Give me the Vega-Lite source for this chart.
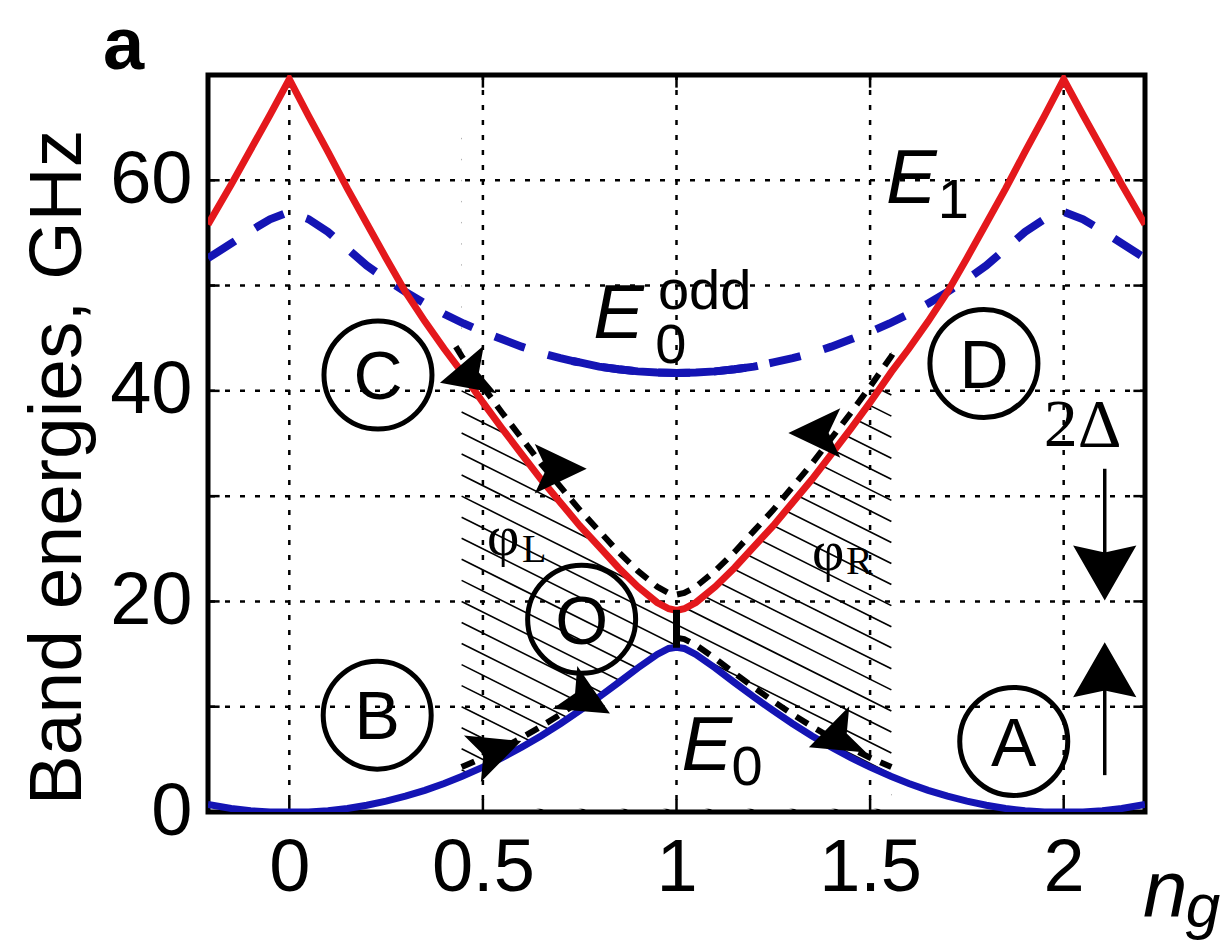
{
  "$schema": "https://vega.github.io/schema/vega-lite/v6.json",
  "width": 937,
  "height": 737,
  "autosize": {"type": "none"},
  "padding": {"left": 208, "top": 75, "right": 80, "bottom": 134},
  "background": "white",
  "config": {
    "view": {"stroke": "black", "strokeWidth": 5},
    "axis": {"labelFont": "Liberation Sans", "labelColor": "black", "ticks": false, "domain": false, "grid": false, "labelFlush": false}
  },
  "datasets": {
    "bands": [
      {"x": -0.21, "e0": 0.71, "e1": 55.8}, {"x": -0.15, "e0": 0.34, "e1": 59.6}, {"x": -0.1, "e0": 0.12, "e1": 62.9},
      {"x": -0.05, "e0": 0.0, "e1": 66.2}, {"x": 0, "e0": 0.0, "e1": 69.6}, {"x": 0.05, "e0": 0.0, "e1": 66.1},
      {"x": 0.1, "e0": 0.12, "e1": 62.7}, {"x": 0.15, "e0": 0.34, "e1": 59.2}, {"x": 0.2, "e0": 0.64, "e1": 55.9},
      {"x": 0.25, "e0": 1.03, "e1": 52.6}, {"x": 0.3, "e0": 1.5, "e1": 49.4}, {"x": 0.35, "e0": 2.06, "e1": 46.6},
      {"x": 0.4, "e0": 2.71, "e1": 44.0}, {"x": 0.445, "e0": 3.37, "e1": 41.8}, {"x": 0.5, "e0": 4.26, "e1": 38.9},
      {"x": 0.55, "e0": 5.16, "e1": 36.4}, {"x": 0.6, "e0": 6.15, "e1": 34.0}, {"x": 0.65, "e0": 7.22, "e1": 31.6},
      {"x": 0.7, "e0": 8.38, "e1": 29.4}, {"x": 0.75, "e0": 9.62, "e1": 27.2}, {"x": 0.8, "e0": 10.92, "e1": 25.2},
      {"x": 0.85, "e0": 12.29, "e1": 23.2}, {"x": 0.9, "e0": 13.68, "e1": 21.4}, {"x": 0.95, "e0": 14.97, "e1": 19.9},
      {"x": 0.98, "e0": 15.53, "e1": 19.3}, {"x": 1.0, "e0": 15.65, "e1": 19.15}, {"x": 1.02, "e0": 15.53, "e1": 19.3},
      {"x": 1.05, "e0": 14.97, "e1": 19.9}, {"x": 1.1, "e0": 13.68, "e1": 21.4}, {"x": 1.15, "e0": 12.29, "e1": 23.2},
      {"x": 1.2, "e0": 10.92, "e1": 25.2}, {"x": 1.25, "e0": 9.62, "e1": 27.2}, {"x": 1.3, "e0": 8.38, "e1": 29.4},
      {"x": 1.35, "e0": 7.22, "e1": 31.6}, {"x": 1.4, "e0": 6.15, "e1": 34.0}, {"x": 1.45, "e0": 5.16, "e1": 36.4},
      {"x": 1.5, "e0": 4.26, "e1": 38.9}, {"x": 1.555, "e0": 3.37, "e1": 41.8}, {"x": 1.6, "e0": 2.71, "e1": 44.0},
      {"x": 1.65, "e0": 2.06, "e1": 46.6}, {"x": 1.7, "e0": 1.5, "e1": 49.4}, {"x": 1.75, "e0": 1.03, "e1": 52.6},
      {"x": 1.8, "e0": 0.64, "e1": 55.9}, {"x": 1.85, "e0": 0.34, "e1": 59.2}, {"x": 1.9, "e0": 0.12, "e1": 62.7},
      {"x": 1.95, "e0": 0.0, "e1": 66.1}, {"x": 2.0, "e0": 0.0, "e1": 69.6}, {"x": 2.05, "e0": 0.0, "e1": 66.2},
      {"x": 2.1, "e0": 0.12, "e1": 62.9}, {"x": 2.15, "e0": 0.34, "e1": 59.6}, {"x": 2.21, "e0": 0.71, "e1": 55.8}
    ],
    "odd": [
      {"x": -0.21, "eo": 52.6}, {"x": -0.15, "eo": 54.0}, {"x": -0.1, "eo": 55.2}, {"x": -0.05, "eo": 56.3},
      {"x": 0, "eo": 57.0}, {"x": 0.05, "eo": 56.3}, {"x": 0.1, "eo": 55.1}, {"x": 0.15, "eo": 53.5},
      {"x": 0.2, "eo": 51.9}, {"x": 0.25, "eo": 50.6}, {"x": 0.3, "eo": 49.4}, {"x": 0.35, "eo": 48.3},
      {"x": 0.4, "eo": 47.3}, {"x": 0.45, "eo": 46.4}, {"x": 0.5, "eo": 45.6}, {"x": 0.55, "eo": 44.9},
      {"x": 0.6, "eo": 44.2}, {"x": 0.65, "eo": 43.6}, {"x": 0.7, "eo": 43.1}, {"x": 0.73, "eo": 42.84},
      {"x": 0.75, "eo": 42.7}, {"x": 0.8, "eo": 42.3}, {"x": 0.85, "eo": 42.05}, {"x": 0.9, "eo": 41.85},
      {"x": 0.95, "eo": 41.74}, {"x": 1.0, "eo": 41.7}, {"x": 1.05, "eo": 41.74}, {"x": 1.1, "eo": 41.85},
      {"x": 1.15, "eo": 42.05}, {"x": 1.2, "eo": 42.3}, {"x": 1.21, "eo": 42.38}, {"x": 1.25, "eo": 42.7},
      {"x": 1.3, "eo": 43.1}, {"x": 1.35, "eo": 43.6}, {"x": 1.4, "eo": 44.2}, {"x": 1.45, "eo": 44.9},
      {"x": 1.5, "eo": 45.6}, {"x": 1.55, "eo": 46.4}, {"x": 1.6, "eo": 47.3}, {"x": 1.65, "eo": 48.3},
      {"x": 1.7, "eo": 49.4}, {"x": 1.75, "eo": 50.6}, {"x": 1.8, "eo": 51.9}, {"x": 1.85, "eo": 53.5},
      {"x": 1.9, "eo": 55.1}, {"x": 1.95, "eo": 56.3}, {"x": 2.0, "eo": 57.0}, {"x": 2.05, "eo": 56.3},
      {"x": 2.1, "eo": 55.2}, {"x": 2.15, "eo": 54.0}, {"x": 2.21, "eo": 52.6}
    ],
    "pathUp": [
      {"x": 0.43, "y": 44.2}, {"x": 0.445, "y": 43.3}, {"x": 0.5, "y": 40.4}, {"x": 0.55, "y": 37.9}, {"x": 0.6, "y": 35.5},
      {"x": 0.65, "y": 33.1}, {"x": 0.7, "y": 30.9}, {"x": 0.75, "y": 28.7}, {"x": 0.8, "y": 26.7},
      {"x": 0.85, "y": 24.7}, {"x": 0.9, "y": 22.9}, {"x": 0.95, "y": 21.4}, {"x": 0.98, "y": 20.8},
      {"x": 1.0, "y": 20.65}, {"x": 1.02, "y": 20.8}, {"x": 1.05, "y": 21.4}, {"x": 1.1, "y": 22.9},
      {"x": 1.15, "y": 24.7}, {"x": 1.2, "y": 26.7}, {"x": 1.25, "y": 28.7}, {"x": 1.3, "y": 30.9},
      {"x": 1.35, "y": 33.1}, {"x": 1.4, "y": 35.5}, {"x": 1.45, "y": 37.9}, {"x": 1.5, "y": 40.4},
      {"x": 1.555, "y": 43.3}, {"x": 1.57, "y": 44.2}
    ],
    "pathLow": [
      {"x": 1.0, "y": 16.55}, {"x": 1.02, "y": 16.43}, {"x": 1.05, "y": 15.87}, {"x": 1.1, "y": 14.58},
      {"x": 1.15, "y": 13.19}, {"x": 1.2, "y": 11.82}, {"x": 1.25, "y": 10.52}, {"x": 1.3, "y": 9.28},
      {"x": 1.35, "y": 8.12}, {"x": 1.4, "y": 7.05}, {"x": 1.45, "y": 6.06}, {"x": 1.5, "y": 5.16}, {"x": 1.555, "y": 4.27}
    ],
    "pathLowL": [
      {"x": 0.445, "y": 4.27}, {"x": 0.5, "y": 5.16}, {"x": 0.55, "y": 6.06}, {"x": 0.6, "y": 7.05},
      {"x": 0.65, "y": 8.12}, {"x": 0.7, "y": 9.28}, {"x": 0.75, "y": 10.52}
    ],
    "hatch": [
      {"hx": 0.445, "hy": 4, "hx2": 1.555, "hy2": -16.4}, {"hx": 0.445, "hy": 6, "hx2": 1.555, "hy2": -14.4},
      {"hx": 0.445, "hy": 8, "hx2": 1.555, "hy2": -12.4}, {"hx": 0.445, "hy": 10, "hx2": 1.555, "hy2": -10.4},
      {"hx": 0.445, "hy": 12, "hx2": 1.555, "hy2": -8.4}, {"hx": 0.445, "hy": 14, "hx2": 1.555, "hy2": -6.4},
      {"hx": 0.445, "hy": 16, "hx2": 1.555, "hy2": -4.4}, {"hx": 0.445, "hy": 18, "hx2": 1.555, "hy2": -2.4},
      {"hx": 0.445, "hy": 20, "hx2": 1.555, "hy2": -0.4}, {"hx": 0.445, "hy": 22, "hx2": 1.555, "hy2": 1.6},
      {"hx": 0.445, "hy": 24, "hx2": 1.555, "hy2": 3.6}, {"hx": 0.445, "hy": 26, "hx2": 1.555, "hy2": 5.6},
      {"hx": 0.445, "hy": 28, "hx2": 1.555, "hy2": 7.6}, {"hx": 0.445, "hy": 30, "hx2": 1.555, "hy2": 9.6},
      {"hx": 0.445, "hy": 32, "hx2": 1.555, "hy2": 11.6}, {"hx": 0.445, "hy": 34, "hx2": 1.555, "hy2": 13.6},
      {"hx": 0.445, "hy": 36, "hx2": 1.555, "hy2": 15.6}, {"hx": 0.445, "hy": 38, "hx2": 1.555, "hy2": 17.6},
      {"hx": 0.445, "hy": 40, "hx2": 1.555, "hy2": 19.6}, {"hx": 0.445, "hy": 42, "hx2": 1.555, "hy2": 21.6},
      {"hx": 0.445, "hy": 44, "hx2": 1.555, "hy2": 23.6}, {"hx": 0.445, "hy": 46, "hx2": 1.555, "hy2": 25.6},
      {"hx": 0.445, "hy": 48, "hx2": 1.555, "hy2": 27.6}, {"hx": 0.445, "hy": 50, "hx2": 1.555, "hy2": 29.6},
      {"hx": 0.445, "hy": 52, "hx2": 1.555, "hy2": 31.6}, {"hx": 0.445, "hy": 54, "hx2": 1.555, "hy2": 33.6},
      {"hx": 0.445, "hy": 56, "hx2": 1.555, "hy2": 35.6}, {"hx": 0.445, "hy": 58, "hx2": 1.555, "hy2": 37.6},
      {"hx": 0.445, "hy": 60, "hx2": 1.555, "hy2": 39.6}, {"hx": 0.445, "hy": 62, "hx2": 1.555, "hy2": 41.6},
      {"hx": 0.445, "hy": 64, "hx2": 1.555, "hy2": 43.6}
    ],
    "gridX": [{"v": 0}, {"v": 0.5}, {"v": 1}, {"v": 1.5}, {"v": 2}],
    "gridY": [{"v": 10}, {"v": 20}, {"v": 30}, {"v": 40}, {"v": 50}, {"v": 60}],
    "circles": [
      {"cx": 0.229, "cy": 41.5, "ty": 39.2, "t": "C"},
      {"cx": 1.794, "cy": 42.6, "ty": 40.3, "t": "D"},
      {"cx": 0.227, "cy": 9.2, "ty": 6.9, "t": "B"},
      {"cx": 1.871, "cy": 6.7, "ty": 4.4, "t": "A"},
      {"cx": 0.755, "cy": 18.3, "ty": 16.0, "t": "O"}
    ],
    "arrows": [
      {"ax": 0.454, "ay": 41.4, "ang": 165},
      {"ax": 0.701, "ay": 32.6, "ang": 0},
      {"ax": 1.356, "ay": 36.0, "ang": 180},
      {"ax": 0.536, "ay": 5.9, "ang": 340},
      {"ax": 0.77, "ay": 10.6, "ang": 30},
      {"ax": 1.405, "ay": 7.0, "ang": 160}
    ],
    "dheads": [{"ax": 2.106, "ay": 22.7, "ang": 90}, {"ax": 2.106, "ay": 13.5, "ang": 270}],
    "dlines": [{"lx": 2.106, "ly": 32.6, "ly2": 22}, {"lx": 2.106, "ly": 3.5, "ly2": 14}]
  },
  "layer": [
    {
      "data": {"name": "hatch"},
      "mark": {"type": "rule", "color": "black", "strokeWidth": 1.6, "clip": true},
      "encoding": {
        "x": {"field": "hx", "type": "quantitative", "scale": {"domain": [-0.21, 2.21], "nice": false, "zero": false},
              "axis": {"title": null, "values": [0, 0.5, 1, 1.5, 2], "format": "~g", "labelFontSize": 74, "labelPadding": 20}},
        "y": {"field": "hy", "type": "quantitative", "scale": {"domain": [0, 70], "nice": false, "zero": false},
              "axis": {"title": "Band energies, GHz", "values": [0, 20, 40, 60], "labelFontSize": 74, "labelPadding": 16,
                       "titleFont": "Liberation Sans", "titleFontSize": 75, "titleFontWeight": "normal", "titleColor": "black",
                       "titleX": -112, "titleY": 392}},
        "x2": {"field": "hx2"},
        "y2": {"field": "hy2"}
      }
    },
    {
      "data": {"name": "bands"},
      "transform": [{"filter": "datum.x >= 0.445 && datum.x <= 1.555"}],
      "mark": {"type": "area", "color": "white", "opacity": 1},
      "encoding": {
        "x": {"field": "x", "type": "quantitative"},
        "y": {"field": "e1", "type": "quantitative"},
        "y2": {"datum": 69.7}
      }
    },
    {
      "data": {"name": "bands"},
      "transform": [{"filter": "datum.x >= 0.445 && datum.x <= 1.555"}],
      "mark": {"type": "area", "color": "white", "opacity": 1},
      "encoding": {
        "x": {"field": "x", "type": "quantitative"},
        "y": {"field": "e0", "type": "quantitative"},
        "y2": {"datum": 0.3}
      }
    },
    {
      "data": {"name": "gridX"},
      "mark": {"type": "rule", "color": "black", "strokeWidth": 2.5, "strokeDash": [5, 10]},
      "encoding": {"x": {"field": "v", "type": "quantitative"}}
    },
    {
      "data": {"name": "gridY"},
      "mark": {"type": "rule", "color": "black", "strokeWidth": 2.5, "strokeDash": [5, 10]},
      "encoding": {"y": {"field": "v", "type": "quantitative"}}
    },
    {
      "data": {"name": "gridX"},
      "mark": {"type": "rule", "color": "black", "strokeWidth": 2.5},
      "encoding": {"x": {"field": "v", "type": "quantitative"}, "y": {"datum": 0}, "y2": {"datum": 1.2}}
    },
    {
      "data": {"name": "gridX"},
      "mark": {"type": "rule", "color": "black", "strokeWidth": 2.5},
      "encoding": {"x": {"field": "v", "type": "quantitative"}, "y": {"datum": 68.8}, "y2": {"datum": 70}}
    },
    {
      "data": {"name": "gridY"},
      "mark": {"type": "rule", "color": "black", "strokeWidth": 2.5},
      "encoding": {"y": {"field": "v", "type": "quantitative"}, "x": {"datum": -0.21}, "x2": {"datum": -0.18}}
    },
    {
      "data": {"name": "gridY"},
      "mark": {"type": "rule", "color": "black", "strokeWidth": 2.5},
      "encoding": {"y": {"field": "v", "type": "quantitative"}, "x": {"datum": 2.18}, "x2": {"datum": 2.21}}
    },
    {
      "data": {"name": "odd"},
      "mark": {"type": "line", "color": "#1414b4", "strokeWidth": 8, "strokeDash": [32, 24], "clip": true},
      "encoding": {"x": {"field": "x", "type": "quantitative"}, "y": {"field": "eo", "type": "quantitative"}}
    },
    {
      "data": {"name": "odd"},
      "transform": [{"filter": "datum.x >= 0.73 && datum.x <= 1.21"}],
      "mark": {"type": "line", "color": "#1414b4", "strokeWidth": 8, "clip": true},
      "encoding": {"x": {"field": "x", "type": "quantitative"}, "y": {"field": "eo", "type": "quantitative"}}
    },
    {
      "data": {"name": "bands"},
      "mark": {"type": "line", "color": "#1414b4", "strokeWidth": 7, "clip": true},
      "encoding": {"x": {"field": "x", "type": "quantitative"}, "y": {"field": "e0", "type": "quantitative"}}
    },
    {
      "data": {"name": "bands"},
      "mark": {"type": "line", "color": "#e4181c", "strokeWidth": 7, "clip": true},
      "encoding": {"x": {"field": "x", "type": "quantitative"}, "y": {"field": "e1", "type": "quantitative"}}
    },
    {
      "data": {"name": "pathUp"},
      "mark": {"type": "line", "color": "black", "strokeWidth": 6, "strokeDash": [14, 10]},
      "encoding": {"x": {"field": "x", "type": "quantitative"}, "y": {"field": "y", "type": "quantitative"}}
    },
    {
      "data": {"name": "pathLow"},
      "mark": {"type": "line", "color": "black", "strokeWidth": 6, "strokeDash": [14, 10]},
      "encoding": {"x": {"field": "x", "type": "quantitative"}, "y": {"field": "y", "type": "quantitative"}}
    },
    {
      "data": {"name": "pathLowL"},
      "mark": {"type": "line", "color": "black", "strokeWidth": 6, "strokeDash": [14, 10]},
      "encoding": {"x": {"field": "x", "type": "quantitative"}, "y": {"field": "y", "type": "quantitative"}}
    },
    {
      "data": {"values": [{"x": 1.0, "y": 15.6, "y2": 19.2}]},
      "mark": {"type": "rule", "color": "black", "strokeWidth": 7},
      "encoding": {"x": {"field": "x", "type": "quantitative"}, "y": {"field": "y", "type": "quantitative"}, "y2": {"field": "y2"}}
    },
    {
      "data": {"name": "arrows"},
      "mark": {"type": "point", "shape": "M1,0 L-1,-0.95 L-0.55,0 L-1,0.95 Z", "filled": true, "color": "black", "opacity": 1, "size": 2700},
      "encoding": {"x": {"field": "ax", "type": "quantitative"}, "y": {"field": "ay", "type": "quantitative"}, "angle": {"field": "ang", "type": "quantitative", "scale": null}}
    },
    {
      "data": {"name": "dlines"},
      "mark": {"type": "rule", "color": "black", "strokeWidth": 3.5},
      "encoding": {"x": {"field": "lx", "type": "quantitative"}, "y": {"field": "ly", "type": "quantitative"}, "y2": {"field": "ly2"}}
    },
    {
      "data": {"name": "dheads"},
      "mark": {"type": "point", "shape": "M1,0 L-1,-1.15 L-0.75,0 L-1,1.15 Z", "filled": true, "color": "black", "opacity": 1, "size": 3025},
      "encoding": {"x": {"field": "ax", "type": "quantitative"}, "y": {"field": "ay", "type": "quantitative"}, "angle": {"field": "ang", "type": "quantitative", "scale": null}}
    },
    {
      "data": {"name": "circles"},
      "mark": {"type": "point", "shape": "circle", "filled": false, "color": "black", "strokeWidth": 5, "opacity": 1, "size": 11664},
      "encoding": {"x": {"field": "cx", "type": "quantitative"}, "y": {"field": "cy", "type": "quantitative"}}
    },
    {
      "data": {"name": "circles"},
      "mark": {"type": "text", "font": "Liberation Sans", "fontSize": 68, "color": "black", "align": "center", "baseline": "alphabetic"},
      "encoding": {"x": {"field": "cx", "type": "quantitative"}, "y": {"field": "ty", "type": "quantitative"}, "text": {"field": "t"}}
    },
    {
      "data": {"values": [{"t": "E", "lx": 1.541, "ly": 57.8}, {"t": "E", "lx": 0.785, "ly": 45.0}, {"t": "E", "lx": 1.013, "ly": 3.98}]},
      "mark": {"type": "text", "font": "Liberation Sans", "fontSize": 76, "fontStyle": "italic", "color": "black", "align": "left", "baseline": "alphabetic"},
      "encoding": {"x": {"field": "lx", "type": "quantitative"}, "y": {"field": "ly", "type": "quantitative"}, "text": {"field": "t"}}
    },
    {
      "data": {"values": [{"t": "1", "lx": 1.675, "ly": 56.4}, {"t": "odd", "lx": 0.952, "ly": 47.8}, {"t": "0", "lx": 0.945, "ly": 42.6}, {"t": "0", "lx": 1.142, "ly": 2.56}]},
      "mark": {"type": "text", "font": "Liberation Sans", "fontSize": 56, "color": "black", "align": "left", "baseline": "alphabetic"},
      "encoding": {"x": {"field": "lx", "type": "quantitative"}, "y": {"field": "ly", "type": "quantitative"}, "text": {"field": "t"}}
    },
    {
      "data": {"values": [{"t": "φ", "lx": 0.552, "ly": 26.0}, {"t": "φ", "lx": 1.392, "ly": 24.6}]},
      "mark": {"type": "text", "font": "Liberation Serif", "fontSize": 56, "color": "black", "align": "center", "baseline": "middle"},
      "encoding": {"x": {"field": "lx", "type": "quantitative"}, "y": {"field": "ly", "type": "quantitative"}, "text": {"field": "t"}}
    },
    {
      "data": {"values": [{"t": "L", "lx": 0.601, "ly": 23.7}, {"t": "R", "lx": 1.438, "ly": 22.65}]},
      "mark": {"type": "text", "font": "Liberation Serif", "fontSize": 40, "color": "black", "align": "left", "baseline": "alphabetic"},
      "encoding": {"x": {"field": "lx", "type": "quantitative"}, "y": {"field": "ly", "type": "quantitative"}, "text": {"field": "t"}}
    },
    {
      "data": {"values": [{"t": "2Δ", "lx": 2.049, "ly": 34.8}]},
      "mark": {"type": "text", "font": "Liberation Serif", "fontSize": 68, "color": "black", "align": "center", "baseline": "alphabetic"},
      "encoding": {"x": {"field": "lx", "type": "quantitative"}, "y": {"field": "ly", "type": "quantitative"}, "text": {"field": "t"}}
    },
    {
      "data": {"values": [{"t": "n", "lx": 2.262, "ly": -10.0}]},
      "mark": {"type": "text", "font": "Liberation Sans", "fontSize": 80, "fontStyle": "italic", "color": "black", "align": "center", "baseline": "alphabetic"},
      "encoding": {"x": {"field": "lx", "type": "quantitative"}, "y": {"field": "ly", "type": "quantitative"}, "text": {"field": "t"}}
    },
    {
      "data": {"values": [{"t": "g", "lx": 2.36, "ly": -10.9}]},
      "mark": {"type": "text", "font": "Liberation Sans", "fontSize": 62, "fontStyle": "italic", "color": "black", "align": "center", "baseline": "alphabetic"},
      "encoding": {"x": {"field": "lx", "type": "quantitative"}, "y": {"field": "ly", "type": "quantitative"}, "text": {"field": "t"}}
    },
    {
      "data": {"values": [{"t": "a", "lx": -0.428, "ly": 70.6}]},
      "mark": {"type": "text", "font": "Liberation Sans", "fontSize": 74, "fontWeight": "bold", "color": "black", "align": "center", "baseline": "alphabetic"},
      "encoding": {"x": {"field": "lx", "type": "quantitative"}, "y": {"field": "ly", "type": "quantitative"}, "text": {"field": "t"}}
    }
  ]
}
